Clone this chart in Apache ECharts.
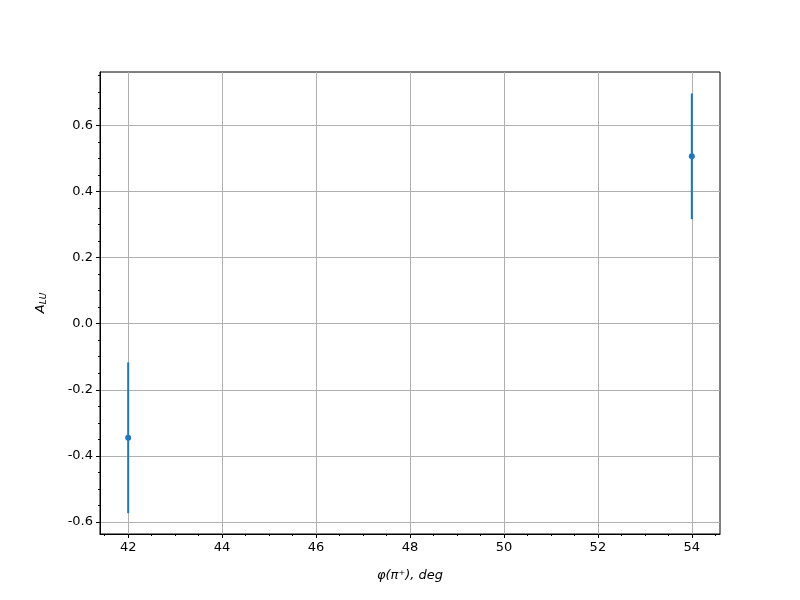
<!DOCTYPE html>
<html><head><meta charset="utf-8">
<script src="https://cdn.jsdelivr.net/npm/echarts@6/dist/echarts.min.js"></script>
<style>html,body{margin:0;padding:0;background:#fff}#c{width:800px;height:600px}</style>
</head><body><div id="c"></div>
<script>
const xValues = [42, 54];
const yValues = [-0.345, 0.506];
const yErrors = [0.228, 0.19];
const xTicks = [42, 44, 46, 48, 50, 52, 54];
const yTicks = [-0.6, -0.4, -0.2, 0.0, 0.2, 0.4, 0.6];
const xMinorTicks = [41.5, 42.5, 43, 43.5, 44.5, 45, 45.5, 46.5, 47, 47.5, 48.5, 49, 49.5, 50.5, 51, 51.5, 52.5, 53, 53.5, 54.5];
const yMinorTicks = [-0.55, -0.5, -0.45, -0.35, -0.3, -0.25, -0.15, -0.1, -0.05, 0.05, 0.1, 0.15, 0.25, 0.3, 0.35, 0.45, 0.5, 0.55, 0.65, 0.7, 0.75];

const xMin = 41.4, xMax = 54.6, yMin = -0.636, yMax = 0.761;
const points = xValues.map((x, i) => [x, yValues[i], yErrors[i]]);
const font = 'DejaVu Sans';

const minorX = {
  type: 'value', min: xMin, max: xMax, position: 'bottom',
  axisLine: {show: false, onZero: false},
  axisTick: {show: true, length: 2, lineStyle: {color: '#000'}, customValues: xMinorTicks},
  axisLabel: {show: false}, splitLine: {show: false}
};
const minorY = {
  type: 'value', min: yMin, max: yMax, position: 'left',
  axisLine: {show: false, onZero: false},
  axisTick: {show: true, length: 2, lineStyle: {color: '#000'}, customValues: yMinorTicks},
  axisLabel: {show: false}, splitLine: {show: false}
};

const chart = echarts.init(document.getElementById('c'), null, {renderer: 'canvas'});
chart.setOption({
  animation: false,
  backgroundColor: '#fff',
  grid: {left: 100, right: 80, top: 72, bottom: 66, show: true, borderColor: '#000', borderWidth: 1, backgroundColor: 'transparent'},
  xAxis: [{
    type: 'value', min: xMin, max: xMax, position: 'bottom',
    name: 'φ(π⁺), deg', nameLocation: 'middle', nameGap: 35,
    nameTextStyle: {fontFamily: font, fontSize: 13, fontStyle: 'italic', color: '#000'},
    axisLine: {show: true, onZero: false, lineStyle: {color: '#000', width: 1}},
    axisTick: {show: true, length: 4, lineStyle: {color: '#000'}, customValues: xTicks},
    axisLabel: {fontFamily: font, fontSize: 13, color: '#000', margin: 7, customValues: xTicks, formatter: v => String(v)},
    splitLine: {show: true, lineStyle: {color: '#b0b0b0', width: 1}}
  }, minorX],
  yAxis: [{
    type: 'value', min: yMin, max: yMax, position: 'left',
    name: '{a|A}{s|LU}', nameLocation: 'middle', nameGap: 52, nameRotate: 90,
    nameTextStyle: {rich: {a: {fontFamily: font, fontSize: 13, fontStyle: 'italic', color: '#000'}, s: {fontFamily: font, fontSize: 9, fontStyle: 'italic', color: '#000', verticalAlign: 'bottom', padding: [6,0,0,0]}}},
    axisLine: {show: true, onZero: false, lineStyle: {color: '#000', width: 1}},
    axisTick: {show: true, length: 4, lineStyle: {color: '#000'}, customValues: yTicks},
    axisLabel: {fontFamily: font, fontSize: 13, color: '#000', margin: 7, customValues: yTicks, formatter: v => v.toFixed(1)},
    splitLine: {show: true, lineStyle: {color: '#b0b0b0', width: 1}}
  }, minorY],
  series: [{
    type: 'custom',
    xAxisIndex: 0, yAxisIndex: 0,
    data: points,
    renderItem: (params, api) => {
      const x = api.value(0), y = api.value(1), e = api.value(2);
      const top = api.coord([x, y + e]);
      const bot = api.coord([x, y - e]);
      const c = api.coord([x, y]);
      return {type: 'group', children: [
        {type: 'line', shape: {x1: top[0], y1: top[1], x2: bot[0], y2: bot[1]}, style: {stroke: '#1f77b4', lineWidth: 2}},
        {type: 'circle', shape: {cx: c[0], cy: c[1], r: 3}, style: {fill: '#1f77b4'}}
      ]};
    }
  }]
});
</script></body></html>
